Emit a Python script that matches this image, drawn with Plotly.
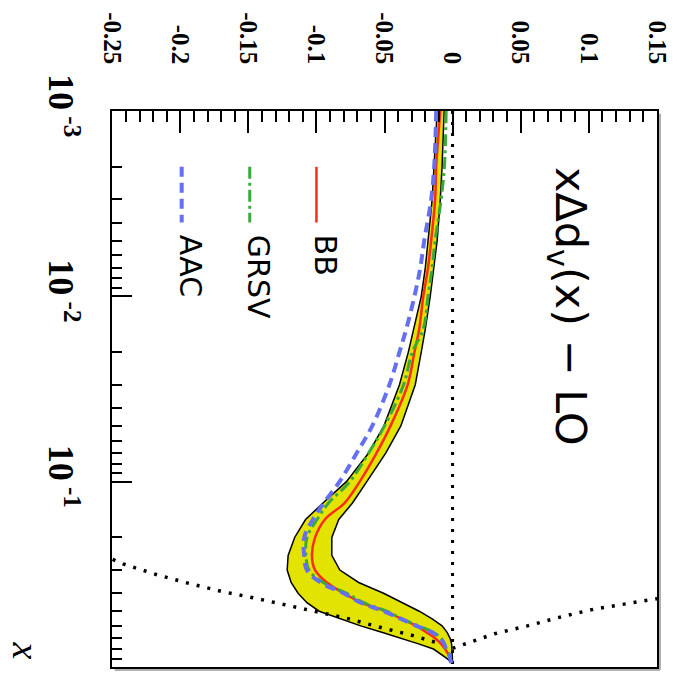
import plotly.graph_objects as go

# ---------------- data ----------------
x_grid = [0.001, 0.002, 0.003, 0.005, 0.007, 0.01, 0.015, 0.02, 0.03, 0.05,
          0.07, 0.1, 0.13, 0.16, 0.2, 0.25, 0.3, 0.35, 0.4, 0.45,
          0.5, 0.55, 0.6, 0.65, 0.7, 0.75, 0.8, 0.85, 0.9, 0.95]

bb = [-0.009, -0.012, -0.0128, -0.0157, -0.018, -0.0215, -0.0245, -0.028, -0.033, -0.0456,
      -0.0558, -0.0682, -0.0792, -0.0938, -0.101, -0.1033, -0.101, -0.0923, -0.080, -0.0668,
      -0.049, -0.0376, -0.0266, -0.0193, -0.0128, -0.0084, -0.0055, -0.0033, -0.0018, -0.001]

band_lo = [-0.0113, -0.0135, -0.015, -0.018, -0.020, -0.023, -0.0288, -0.0325, -0.039, -0.0504,
           -0.0617, -0.078, -0.095, -0.108, -0.116, -0.1208, -0.1215, -0.1186, -0.1135, -0.107,
           -0.098, -0.082, -0.0675, -0.052, -0.0376, -0.025, -0.014, -0.0084, -0.004, -0.001]

band_hi = [-0.0062, -0.0077, -0.009, -0.0113, -0.0135, -0.0164, -0.020, -0.023, -0.0274, -0.038,
           -0.049, -0.063, -0.0734, -0.0836, -0.0887, -0.0887, -0.0828, -0.069, -0.0507, -0.0369,
           -0.0245, -0.015, -0.0077, -0.004, -0.0018, -0.0007, -0.0004, -0.0002, -0.0001, 0.0]

grsv = [-0.0047, -0.006, -0.0084, -0.0128, -0.015, -0.018, -0.0215, -0.0296, -0.036, -0.050,
        -0.0617, -0.0755, -0.091, -0.0996, -0.107, -0.1077, -0.1055, -0.095, -0.0777, -0.0653,
        -0.0485, -0.0369, -0.025, -0.0142, -0.0084, -0.0062, -0.0047, -0.0026, -0.0018, -0.001]

aac = [-0.012, -0.0135, -0.0157, -0.0208, -0.0237, -0.028, -0.034, -0.039, -0.0464, -0.059,
       -0.0704, -0.083, -0.0945, -0.1026, -0.109, -0.109, -0.107, -0.097, -0.080, -0.0675,
       -0.0507, -0.038, -0.0266, -0.015, -0.009, -0.0062, -0.0047, -0.0026, -0.0018, -0.001]

neg_bound_x = [0.24, 0.262, 0.278, 0.318, 0.355, 0.392, 0.427, 0.459, 0.499, 0.550, 0.614, 0.677, 0.738, 0.793]
neg_bound_v = [-0.265, -0.25, -0.242, -0.217, -0.193, -0.169, -0.144, -0.124, -0.100, -0.076, -0.052, -0.029, -0.012, 0.0]

pos_bound_x = [0.793, 0.661, 0.600, 0.537, 0.487, 0.453, 0.427, 0.401]
pos_bound_v = [0.0, 0.031, 0.055, 0.0795, 0.104, 0.128, 0.151, 0.175]

zero_x = [0.001, 1.0]
zero_v = [0.0, 0.0]

value_ticks = [-0.25, -0.2, -0.15, -0.1, -0.05, 0.0, 0.05, 0.1, 0.15]
value_labels = ["-0.25", "-0.2", "-0.15", "-0.1", "-0.05", "0", "0.05", "0.1", "0.15"]
value_minor = [round(-0.25 + 0.01 * i, 2) for i in range(41)]

x_ticks = [0.001, 0.01, 0.1]
x_labels = ["10<sup> -3</sup>", "10<sup> -2</sup>", "10<sup> -1</sup>"]
x_minor = [m * d for d in (0.001, 0.01, 0.1) for m in range(2, 10)]

legend_names = ["BB", "GRSV", "AAC"]
legend_pos = [-0.1, -0.149, -0.199]
legend_span = [0.002, 0.004]

title_text = "xΔd<sub>v</sub>(x) − LO"

# ---------------- styles ----------------
c_band = "#e3e300"
c_bb = "#ff2a1a"
c_grsv = "#3aa83a"
c_aac = "#6470f0"
styles = {
    "BB": dict(color=c_bb, width=2.5, dash="solid"),
    "GRSV": dict(color=c_grsv, width=3, dash="12px,4px,3px,4px"),
    "AAC": dict(color=c_aac, width=4, dash="10px,6px"),
}

fig = go.Figure()

# band
fig.add_trace(go.Scatter(
    x=band_lo + band_hi[::-1], y=x_grid + x_grid[::-1],
    fill="toself", fillcolor=c_band, mode="lines",
    line=dict(color="black", width=1.5), hoverinfo="skip"))

# zero line and bounds (dotted)
dot = dict(color="black", width=3.5, dash="3px,8px")
fig.add_trace(go.Scatter(x=zero_v, y=zero_x, mode="lines", line=dict(color="black", width=3, dash="3px,8px")))
fig.add_trace(go.Scatter(x=neg_bound_v, y=neg_bound_x, mode="lines", line=dot))
fig.add_trace(go.Scatter(x=pos_bound_v, y=pos_bound_x, mode="lines", line=dot))

# curves
fig.add_trace(go.Scatter(x=bb, y=x_grid, mode="lines", line=styles["BB"], line_shape="spline"))
fig.add_trace(go.Scatter(x=grsv, y=x_grid, mode="lines", line=styles["GRSV"], line_shape="spline"))
fig.add_trace(go.Scatter(x=aac, y=x_grid, mode="lines", line=styles["AAC"], line_shape="spline"))

# legend samples
for name, v in zip(legend_names, legend_pos):
    fig.add_trace(go.Scatter(x=[v, v], y=legend_span, mode="lines", line=styles[name]))

annotations = []
for name, v in zip(legend_names, legend_pos):
    annotations.append(dict(
        x=v + 0.0065, y=-2.345, xref="x", yref="y", text=name, showarrow=False,
        textangle=90, xanchor="center", yanchor="top",
        font=dict(family="DejaVu Sans", size=30, color="black")))

annotations.append(dict(
    x=0.0843, y=-2.71, xref="x", yref="y", text=title_text, showarrow=False,
    textangle=90, xanchor="center", yanchor="top",
    font=dict(family="DejaVu Sans", size=43, color="black")))

annotations.append(dict(
    x=-0.158, y=0.03, xref="paper", yref="paper", text="x", showarrow=False,
    textangle=90, xanchor="center", yanchor="middle",
    font=dict(family="Liberation Serif", size=38, color="black", style="italic")))

tick_font = dict(family="Liberation Serif", size=25, color="black", weight="bold")
log_tick_font = dict(family="Liberation Serif", size=36, color="black", weight="bold")

fig.update_layout(
    width=683, height=681,
    margin=dict(l=112, r=23, t=100, b=14),
    plot_bgcolor="white", paper_bgcolor="white",
    showlegend=False,
    annotations=annotations,
    shapes=[
        dict(type="line", xref="paper", yref="paper", x0=1.0055, x1=1.0055, y0=-0.005, y1=0.995,
             line=dict(color="#b0b0b0", width=2)),
        dict(type="line", xref="paper", yref="paper", x0=0.005, x1=1.0055, y0=-0.0053, y1=-0.0053,
             line=dict(color="#b0b0b0", width=2)),
    ],
    xaxis=dict(
        range=[-0.2502, 0.1502], side="top",
        tickmode="array", tickvals=value_ticks, ticktext=value_labels,
        ticks="inside", ticklen=22, tickwidth=2, tickcolor="black",
        tickangle=90, tickfont=tick_font, ticklabelstandoff=36,
        showline=True, linecolor="black", linewidth=2, mirror=True,
        showgrid=False, zeroline=False,
        minor=dict(tickmode="array", tickvals=value_minor, ticks="inside", ticklen=11,
                   tickwidth=2, tickcolor="black", showgrid=False),
    ),
    yaxis=dict(
        type="log", range=[0, -3],
        tickmode="array", tickvals=x_ticks, ticktext=x_labels,
        ticks="inside", ticklen=20, tickwidth=2, tickcolor="black",
        tickangle=90, tickfont=log_tick_font, ticklabelstandoff=18,
        showline=True, linecolor="black", linewidth=2, mirror=True,
        showgrid=False, zeroline=False,
        minor=dict(tickmode="array", tickvals=x_minor, ticks="inside", ticklen=10,
                   tickwidth=2, tickcolor="black", showgrid=False),
    ),
)

fig.write_html("out.html")
